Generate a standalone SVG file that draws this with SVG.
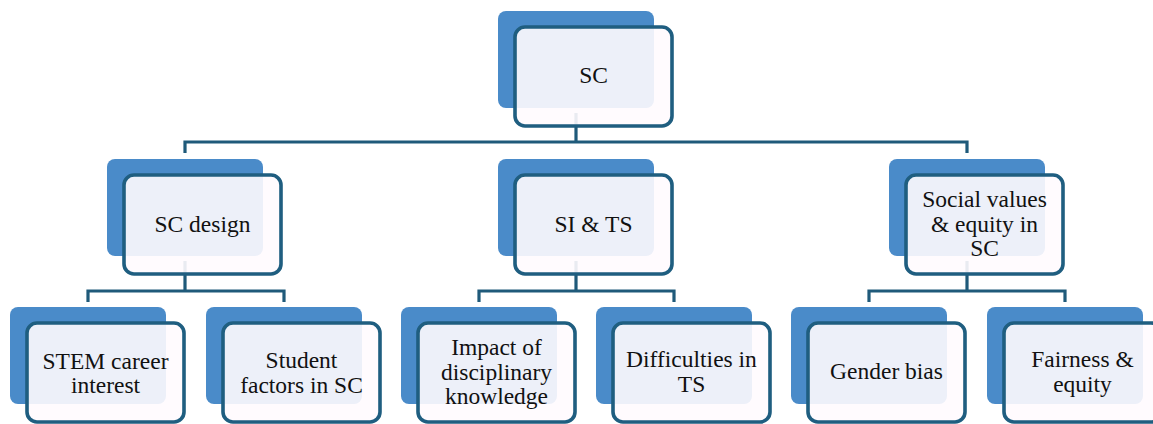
<svg xmlns="http://www.w3.org/2000/svg" width="1153" height="424" viewBox="0 0 1153 424">
  <style>
    .back { fill: #4a8bc9; }
    .front { fill: #fffbfe; fill-opacity: 0.9; stroke: #1f5e80; stroke-width: 3.6; }
    .link { fill: none; stroke: #1f5a7a; stroke-width: 3.2; }
    .label { font-family: "Liberation Serif", "Times New Roman", serif; font-size: 23.5px; fill: #111111; text-anchor: middle; }
  </style>
  <rect width="1153" height="424" fill="#ffffff"/>

  <!-- connectors (drawn beneath the boxes) -->
  <g id="connectors" class="link">
    <path d="M576,113 V142"/>
    <path d="M185,153 V142 H967 V153"/>
    <path d="M185,261 V291"/>
    <path d="M88,302 V291 H284 V302"/>
    <path d="M576,261 V291"/>
    <path d="M479,302 V291 H674 V302"/>
    <path d="M967,261 V291"/>
    <path d="M869,302 V291 H1065 V302"/>
  </g>

  <!-- root -->
  <g id="node-sc">
    <rect class="back" x="498" y="11" width="156" height="97" rx="8"/>
    <rect class="front" x="515" y="27" width="157" height="99" rx="10"/>
    <text class="label" x="593.5" y="83">SC</text>
  </g>

  <!-- second level -->
  <g id="node-sc-design">
    <rect class="back" x="107" y="159" width="156" height="97" rx="8"/>
    <rect class="front" x="124" y="175" width="157" height="99" rx="10"/>
    <text class="label" x="202.5" y="232">SC design</text>
  </g>
  <g id="node-si-ts">
    <rect class="back" x="498" y="159" width="156" height="97" rx="8"/>
    <rect class="front" x="515" y="175" width="157" height="99" rx="10"/>
    <text class="label" x="593.5" y="232">SI &amp; TS</text>
  </g>
  <g id="node-social">
    <rect class="back" x="889" y="159" width="156" height="97" rx="8"/>
    <rect class="front" x="906" y="175" width="157" height="99" rx="10"/>
    <text class="label" x="984.5" y="207">Social values</text>
    <text class="label" x="984.5" y="232">&amp; equity in</text>
    <text class="label" x="984.5" y="256">SC</text>
  </g>

  <!-- third level -->
  <g id="node-stem">
    <rect class="back" x="10" y="307" width="156" height="97" rx="8"/>
    <rect class="front" x="27" y="323" width="157" height="99" rx="10"/>
    <text class="label" x="105.5" y="368.5">STEM career</text>
    <text class="label" x="105.5" y="393">interest</text>
  </g>
  <g id="node-student">
    <rect class="back" x="206" y="307" width="156" height="97" rx="8"/>
    <rect class="front" x="223" y="323" width="157" height="99" rx="10"/>
    <text class="label" x="301.5" y="368">Student</text>
    <text class="label" x="301.5" y="392.5">factors in SC</text>
  </g>
  <g id="node-impact">
    <rect class="back" x="401" y="307" width="156" height="97" rx="8"/>
    <rect class="front" x="418" y="323" width="157" height="99" rx="10"/>
    <text class="label" x="496.5" y="355">Impact of</text>
    <text class="label" x="496.5" y="380">disciplinary</text>
    <text class="label" x="496.5" y="404">knowledge</text>
  </g>
  <g id="node-difficulties">
    <rect class="back" x="596" y="307" width="156" height="97" rx="8"/>
    <rect class="front" x="613" y="323" width="157" height="99" rx="10"/>
    <text class="label" x="691.5" y="367">Difficulties in</text>
    <text class="label" x="691.5" y="392">TS</text>
  </g>
  <g id="node-gender">
    <rect class="back" x="791" y="307" width="156" height="97" rx="8"/>
    <rect class="front" x="808" y="323" width="157" height="99" rx="10"/>
    <text class="label" x="886.5" y="379">Gender bias</text>
  </g>
  <g id="node-fairness">
    <rect class="back" x="987" y="307" width="156" height="97" rx="8"/>
    <rect class="front" x="1004" y="323" width="157" height="99" rx="10"/>
    <text class="label" x="1082.5" y="367">Fairness &amp;</text>
    <text class="label" x="1082.5" y="391.5">equity</text>
  </g>
</svg>
